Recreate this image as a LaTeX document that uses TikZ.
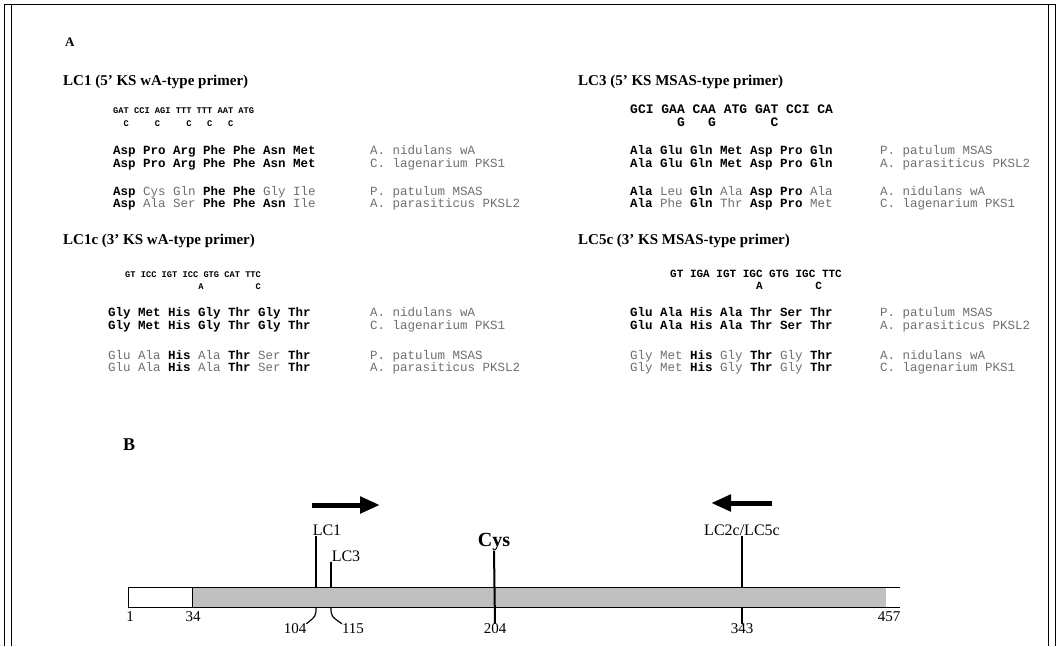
\documentclass[tikz,border=0pt]{standalone}
\usepackage{fontspec}
\setmainfont{Liberation Serif}
\setmonofont{Liberation Mono}
\usetikzlibrary{arrows.meta}

\definecolor{bargray}{RGB}{192,192,192}
\definecolor{lightres}{RGB}{110,110,110}
\newcommand{\aam}[1]{\textbf{#1}}
\newcommand{\aax}[1]{{\color{lightres}#1}}

\tikzset{
    ttl/.style={anchor=mid west, inner sep=0pt, font=\fontsize{15}{15}\selectfont\bfseries},
    cod/.style={anchor=mid west, inner sep=0pt, font=\ttfamily\bfseries\fontsize{#1}{#1}\selectfont},
    res/.style={anchor=mid west, inner sep=0pt, font=\ttfamily\fontsize{12.5}{12.5}\selectfont},
    spc/.style={anchor=mid west, inner sep=0pt, text=lightres, font=\ttfamily\fontsize{12.5}{12.5}\selectfont},
    lab/.style={inner sep=0pt, font=\fontsize{16}{16}\selectfont},
    num/.style={inner sep=0pt, font=\fontsize{15}{15}\selectfont},
    tick/.style={line width=2pt},
  }

\begin{document}
\begin{tikzpicture}[x=1pt,y=-1pt]
    \useasboundingbox (0,0) rectangle (1060,646);
    % frame
    \draw[line width=1pt] (4,646) -- (4,4) -- (1055,4) -- (1055,646);
    \draw[line width=1pt] (11,646) -- (11,4);
    \draw[line width=1pt] (1048,646) -- (1048,4);

    \node[ttl, font=\fontsize{13}{13}\selectfont\bfseries] (pa) at (65,44) {A};

    % LC1
    \node[ttl] (t1) at (63,83) {LC1 (5' KS wA-type primer)};
    \node[cod=8.7] (c1) at (113,111) {GAT CCI AGI TTT TTT AAT ATG};
    \node[cod=8.7] (d1) at (113,124) {~~C~~~~~C~~~~~C~~~C~~~C};
    \node[res] (r1a) at (113,152) {\bfseries Asp Pro Arg Phe Phe Asn Met};
    \node[res] (r1b) at (113,165) {\bfseries Asp Pro Arg Phe Phe Asn Met};
    \node[res] (r1c) at (113,193) {\aam{Asp} \aax{Cys} \aax{Gln} \aam{Phe} \aam{Phe} \aax{Gly} \aax{Ile}};
    \node[res] (r1d) at (113,205) {\aam{Asp} \aax{Ala} \aax{Ser} \aam{Phe} \aam{Phe} \aam{Asn} \aax{Ile}};
    \node[spc] (s1a) at (370,152) {A. nidulans wA};
    \node[spc] (s1b) at (370,165) {C. lagenarium PKS1};
    \node[spc] (s1c) at (370,193) {P. patulum MSAS};
    \node[spc] (s1d) at (370,205) {A. parasiticus PKSL2};

    % LC1c
    \node[ttl] (t2) at (63,242) {LC1c (3' KS wA-type primer)};
    \node[cod=8.7] (c2) at (125,275) {GT ICC IGT ICC GTG CAT TTC};
    \node[cod=8.7] (d2) at (125,287) {~~~~~~~~~~~~~~A~~~~~~~~~~C};
    \node[res] (r2a) at (108,314) {\bfseries Gly Met His Gly Thr Gly Thr};
    \node[res] (r2b) at (108,327) {\bfseries Gly Met His Gly Thr Gly Thr};
    \node[res] (r2c) at (108,357) {\aax{Glu} \aax{Ala} \aam{His} \aax{Ala} \aam{Thr} \aax{Ser} \aam{Thr}};
    \node[res] (r2d) at (108,369) {\aax{Glu} \aax{Ala} \aam{His} \aax{Ala} \aam{Thr} \aax{Ser} \aam{Thr}};
    \node[spc] (s2a) at (370,314) {A. nidulans wA};
    \node[spc] (s2b) at (370,327) {C. lagenarium PKS1};
    \node[spc] (s2c) at (370,357) {P. patulum MSAS};
    \node[spc] (s2d) at (370,369) {A. parasiticus PKSL2};

    % LC3
    \node[ttl] (t3) at (578,83) {LC3 (5' KS MSAS-type primer)};
    \node[cod=13] (c3) at (630,111) {GCI GAA CAA ATG GAT CCI CA};
    \node[cod=13] (d3) at (630,124) {~~~~~~G~~~G~~~~~~~C};
    \node[res] (r3a) at (630,152) {\bfseries Ala Glu Gln Met Asp Pro Gln};
    \node[res] (r3b) at (630,165) {\bfseries Ala Glu Gln Met Asp Pro Gln};
    \node[res] (r3c) at (630,193) {\aam{Ala} \aax{Leu} \aam{Gln} \aax{Ala} \aam{Asp} \aam{Pro} \aax{Ala}};
    \node[res] (r3d) at (630,205) {\aam{Ala} \aax{Phe} \aam{Gln} \aax{Thr} \aam{Asp} \aam{Pro} \aax{Met}};
    \node[spc] (s3a) at (880,152) {P. patulum MSAS};
    \node[spc] (s3b) at (880,165) {A. parasiticus PKSL2};
    \node[spc] (s3c) at (880,193) {A. nidulans wA};
    \node[spc] (s3d) at (880,205) {C. lagenarium PKS1};

    % LC5c
    \node[ttl] (t4) at (578,242) {LC5c (3' KS MSAS-type primer)};
    \node[cod=11] (c4) at (670,275) {GT IGA IGT IGC GTG IGC TTC};
    \node[cod=11] (d4) at (670,287) {~~~~~~~~~~~~~A~~~~~~~~C};
    \node[res] (r4a) at (630,314) {\bfseries Glu Ala His Ala Thr Ser Thr};
    \node[res] (r4b) at (630,327) {\bfseries Glu Ala His Ala Thr Ser Thr};
    \node[res] (r4c) at (630,357) {\aax{Gly} \aax{Met} \aam{His} \aax{Gly} \aam{Thr} \aax{Gly} \aam{Thr}};
    \node[res] (r4d) at (630,369) {\aax{Gly} \aax{Met} \aam{His} \aax{Gly} \aam{Thr} \aax{Gly} \aam{Thr}};
    \node[spc] (s4a) at (880,314) {P. patulum MSAS};
    \node[spc] (s4b) at (880,327) {A. parasiticus PKSL2};
    \node[spc] (s4c) at (880,357) {A. nidulans wA};
    \node[spc] (s4d) at (880,369) {C. lagenarium PKS1};

    % map
    \node[ttl, font=\fontsize{18}{18}\selectfont\bfseries] (pb) at (123,448) {B};

    \coordinate (fw0) at (312,505);
    \coordinate (fw1) at (380,505);
    \coordinate (rv0) at (772,503);
    \coordinate (rv1) at (711,503);
    \draw[line width=5pt, -{Triangle[length=20pt,width=16pt]}] (fw0) -- (fw1);
    \draw[line width=5pt, -{Triangle[length=20pt,width=16pt]}] (rv0) -- (rv1);

    \fill[bargray] (192,587) rectangle (886,607);
    \draw[line width=1pt] (128,587) rectangle (192,607);
    \draw[line width=1pt] (192,587) -- (900,587) (192,607) -- (900,607);

    \coordinate (p104) at (316,587);
    \coordinate (q104) at (316,607);
    \coordinate (p115) at (331,587);
    \coordinate (q115) at (331,607);
    \coordinate (p343) at (742,587);
    \coordinate (q343) at (742,607);

    \node[lab] (lc1) at (327,530) {LC1};
    \node[lab] (lc3) at (346,556) {LC3};
    \node[lab, font=\fontsize{20}{20}\selectfont\bfseries] (cys) at (494,542) {Cys};
    \node[lab] (lc25) at (742,530) {LC2c/LC5c};

    \node[num] (n1) at (130,617) {1};
    \node[num] (n34) at (193,617) {34};
    \node[num] (n104) at (295,629) {104};
    \node[num] (n115) at (353,629) {115};
    \node[num] (n204) at (495,629) {204};
    \node[num] (n343) at (742,629) {343};
    \node[num] (n457) at (889,617) {457};

    \draw[tick] (lc1.south -| p104) -- (p104);
    \draw[tick] (lc3.south -| p115) -- (p115);
    \draw[tick] (cys.south) -- (n204.north);
    \draw[tick] (lc25.south) -- (p343);
    \draw[tick] (q343) -- (n343.north);
    \draw[line width=1.2pt] (q104) .. controls (316,616) .. (n104.north east);
    \draw[line width=1.2pt] (q115) .. controls (331,616) .. (n115.north west);
  \end{tikzpicture}
\end{document}
